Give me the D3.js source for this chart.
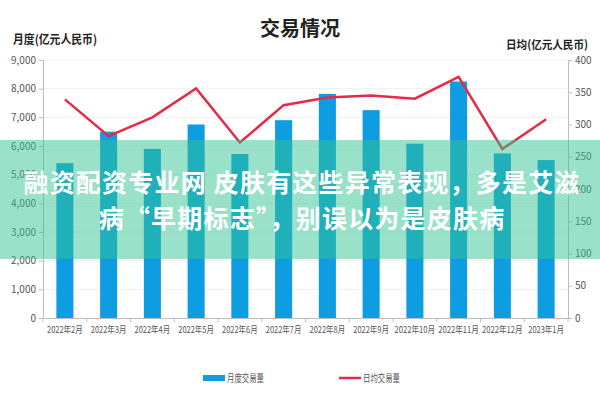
<!DOCTYPE html>
<html>
<head>
<meta charset="utf-8">
<script src="https://cdn.jsdelivr.net/npm/d3@7"></script>
<style>
  body { margin: 0; background: #fff; }
  svg { display: block; font-family: "Noto Sans CJK SC", "Noto Sans", sans-serif; }
</style>
</head>
<body>
<svg id="chart" width="600" height="400"></svg>
<script>
const months = ["2022年2月", "2022年3月", "2022年4月", "2022年5月", "2022年6月", "2022年7月",
  "2022年8月", "2022年9月", "2022年10月", "2022年11月", "2022年12月", "2023年1月"];
const monthlyVolume = [5400, 6500, 5900, 6750, 5720, 6900, 7820, 7250, 6080, 8250, 5740, 5510];
const dailyAverage = [339, 282, 311, 356, 272, 330, 342, 345, 340, 374, 262, 308];
const leftTicks = [0, 1000, 2000, 3000, 4000, 5000, 6000, 7000, 8000, 9000];
const rightTicks = [0, 50, 100, 150, 200, 250, 300, 350, 400];
const overlayLines = ["融资配资专业网 皮肤有这些异常表现，多是艾滋", "病“早期标志”，别误以为是皮肤病"];

const LEFT = 43, RIGHT = 568, TOP = 60, BOTTOM = 318;
const BAR_COLOR = "#0d9de0", LINE_COLOR = "#e52a48", AXIS_COLOR = "#bdbdbd", LABEL_COLOR = "#555";

const svg = d3.select("#chart");

const x = d3.scaleBand().domain(months).range([LEFT, RIGHT]).padding(0);
const yLeft = d3.scaleLinear().domain([0, 9000]).range([BOTTOM, TOP]);
const yRight = d3.scaleLinear().domain([0, 400]).range([BOTTOM, TOP]);

// gridlines
svg.append("g")
  .selectAll("line")
  .data(leftTicks.slice(1))
  .join("line")
    .attr("x1", LEFT).attr("x2", RIGHT)
    .attr("y1", d => yLeft(d)).attr("y2", d => yLeft(d))
    .attr("stroke", "#f0f0f0");

// bars
const barW = x.bandwidth() * 0.39;
svg.append("g")
  .selectAll("rect")
  .data(monthlyVolume)
  .join("rect")
    .attr("x", (d, i) => x(months[i]) + (x.bandwidth() - barW) / 2)
    .attr("y", d => yLeft(d))
    .attr("width", barW)
    .attr("height", d => BOTTOM - yLeft(d))
    .attr("fill", BAR_COLOR);

// line
const line = d3.line()
  .x((d, i) => x(months[i]) + x.bandwidth() / 2)
  .y(d => yRight(d));
svg.append("path")
  .datum(dailyAverage)
  .attr("d", line)
  .attr("fill", "none")
  .attr("stroke", LINE_COLOR)
  .attr("stroke-width", 2.5)
  .attr("stroke-linejoin", "miter");

function styleAxis(g) {
  g.select(".domain").attr("stroke", AXIS_COLOR);
  g.selectAll(".tick line").attr("stroke", AXIS_COLOR);
  g.selectAll(".tick text")
    .attr("fill", LABEL_COLOR)
    .style("font-family", "'Liberation Sans Narrow', 'Noto Sans CJK SC', sans-serif")
    .style("font-size", "10px");
}

// left axis
svg.append("g")
  .attr("transform", `translate(${LEFT},0)`)
  .call(d3.axisLeft(yLeft).tickValues(leftTicks).tickFormat(d3.format(",")).tickSize(4).tickSizeOuter(0))
  .call(styleAxis);

// right axis
svg.append("g")
  .attr("transform", `translate(${RIGHT},0)`)
  .call(d3.axisRight(yRight).tickValues(rightTicks).tickSize(4).tickSizeOuter(0))
  .call(styleAxis);

// bottom axis: labels centred on bands, tick marks at band edges
const xAxis = svg.append("g")
  .attr("transform", `translate(0,${BOTTOM})`)
  .call(d3.axisBottom(x).tickSize(0).tickSizeOuter(0).tickPadding(9))
  .call(styleAxis);
xAxis.selectAll(".tick text")
  .style("font-family", "'Noto Sans CJK SC', sans-serif")
  .style("font-size", "9px")
  .attr("textLength", d => d.length * 5.1)
  .attr("lengthAdjust", "spacingAndGlyphs");
xAxis.selectAll(".edge")
  .data(months.map(m => x(m)).concat([RIGHT]))
  .join("line")
    .attr("class", "edge")
    .attr("x1", d => d).attr("x2", d => d)
    .attr("y1", 0).attr("y2", 4)
    .attr("stroke", AXIS_COLOR);

// titles
svg.append("text")
  .attr("x", 300).attr("y", 36)
  .attr("text-anchor", "middle")
  .attr("font-size", 20)
  .attr("font-weight", "bold")
  .attr("fill", "#222")
  .text("交易情况");

svg.append("text")
  .attr("x", 13).attr("y", 44)
  .attr("font-size", 12)
  .attr("font-weight", "bold")
  .attr("fill", "#222")
  .attr("textLength", 84)
  .attr("lengthAdjust", "spacingAndGlyphs")
  .text("月度(亿元人民币)");

svg.append("text")
  .attr("x", 506).attr("y", 49)
  .attr("font-size", 11.5)
  .attr("font-weight", "bold")
  .attr("fill", "#222")
  .attr("textLength", 82)
  .attr("lengthAdjust", "spacingAndGlyphs")
  .text("日均(亿元人民币)");

// legend
const legend = svg.append("g").attr("font-size", 10).attr("fill", LABEL_COLOR);
legend.append("rect").attr("x", 203).attr("y", 375).attr("width", 22).attr("height", 6).attr("fill", BAR_COLOR);
legend.append("text").attr("x", 227).attr("y", 382).attr("textLength", 37).attr("lengthAdjust", "spacingAndGlyphs").text("月度交易量");
legend.append("line").attr("x1", 339).attr("x2", 361).attr("y1", 378).attr("y2", 378)
  .attr("stroke", LINE_COLOR).attr("stroke-width", 2.5);
legend.append("text").attr("x", 363).attr("y", 382).attr("textLength", 37).attr("lengthAdjust", "spacingAndGlyphs").text("日均交易量");

// translucent banner with text
svg.append("rect")
  .attr("x", 0).attr("y", 140)
  .attr("width", 600).attr("height", 119)
  .attr("fill", "rgb(52,196,146)")
  .attr("fill-opacity", 0.5);

svg.append("g")
  .selectAll("text")
  .data(overlayLines)
  .join("text")
    .attr("x", 302)
    .attr("y", (d, i) => 192 + i * 36)
    .attr("text-anchor", "middle")
    .attr("font-size", 25)
    .attr("font-weight", "bold")
    .attr("letter-spacing", 1.2)
    .attr("fill", "#fff")
    .text(d => d);
</script>
</body>
</html>
